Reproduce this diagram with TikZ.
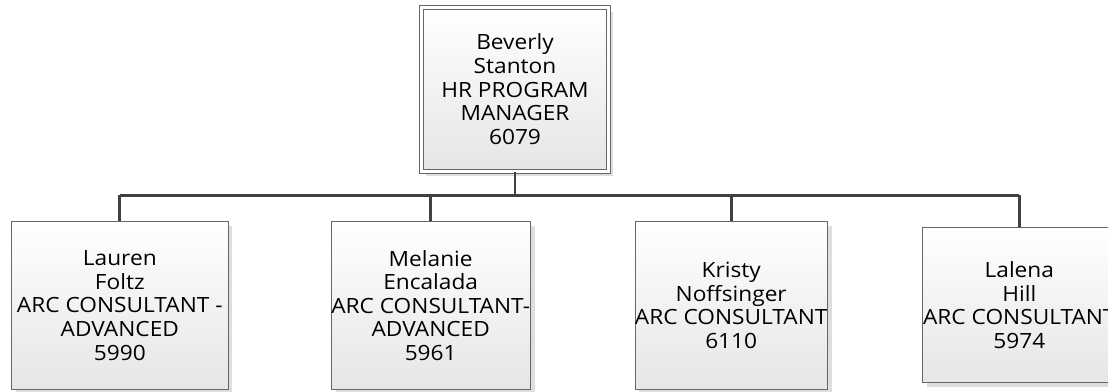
\documentclass[tikz,border=0pt]{standalone}
\usepackage{fontspec}
\setmainfont{Open Sans}[FakeStretch=1.08]
\usetikzlibrary{shadows}

\tikzset{
  person/.style={draw=black!60, line width=0.9pt, top color=white, bottom color=black!10,
    align=center, inner sep=0pt, minimum height=167.6pt,
    font=\fontsize{21}{23.6}\selectfont,
    drop shadow={shadow xshift=4.5pt, shadow yshift=-4.5pt, fill=black!13, opacity=1}},
  chief/.style={person, double=white, double distance=3pt, line width=0.9pt,
    minimum width=187.4pt, minimum height=163.9pt},
  link/.style={draw=black!75, line width=2.8pt}
}

\begin{document}
\begin{tikzpicture}[x=1pt, y=-1pt]
\useasboundingbox (0,0) rectangle (1108,391);

% manager
\node[chief] (beverly) at (515,89.2) {Beverly\\Stanton\\HR PROGRAM\\MANAGER\\6079};

% consultants
\node[person, minimum width=216.3pt] (lauren) at (119.8,305.5)
  {Lauren\\Foltz\\ARC CONSULTANT -\\ADVANCED\\5990};
\node[person, minimum width=192pt] (melanie) at (430.7,305.5)
  {Melanie\\Encalada\\ARC CONSULTANT-\\ADVANCED\\5961};
\node[person, minimum width=192.3pt] (kristy) at (731.2,305.5)
  {Kristy\\Noffsinger\\ARC CONSULTANT\\6110};
\node[person, minimum width=193.2pt, minimum height=155pt] (lalena) at (1019.3,305.2)
  {Lalena\\Hill\\ARC CONSULTANT\\5974};

% connectors
\path (beverly.south) ++(0,23.5) coordinate (bus);
\draw[link] (beverly.south) -- (bus);
\draw[link] (bus -| lauren.north) -- (bus -| lalena.north);
\foreach \who in {lauren,melanie,kristy,lalena}
  \draw[link] (bus -| \who.north) -- (\who.north);
\end{tikzpicture}
\end{document}
